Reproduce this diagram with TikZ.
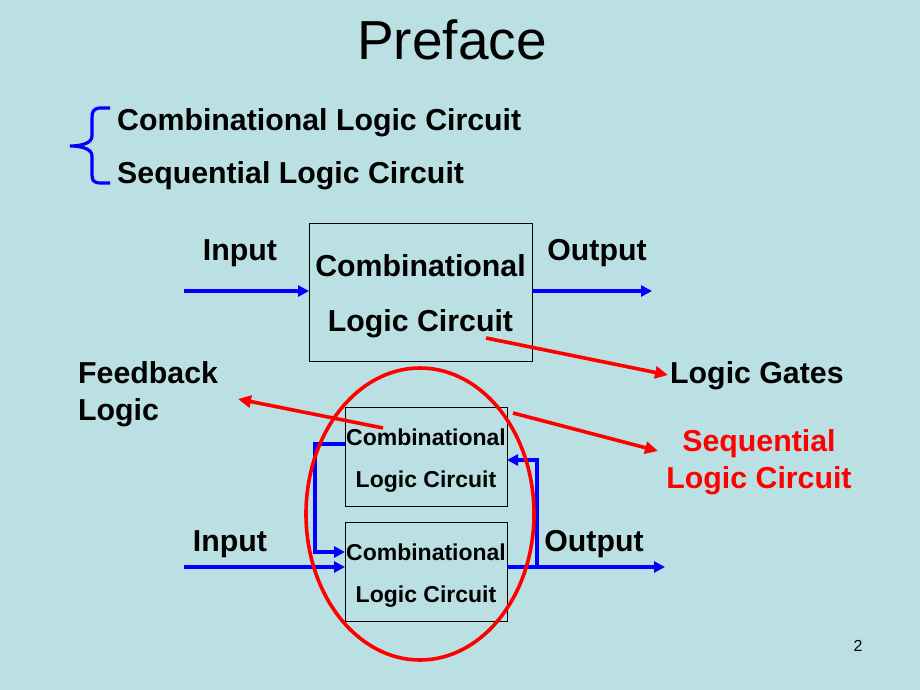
\documentclass[tikz,border=0pt]{standalone}
\usepackage{fontspec}
\setmainfont{Liberation Sans}
\usetikzlibrary{arrows.meta,shapes.geometric}
\definecolor{bgc}{RGB}{187,224,227}
\definecolor{myblue}{RGB}{0,0,255}
\definecolor{myred}{RGB}{255,0,0}
\begin{document}
\begin{tikzpicture}[x=1pt,y=-1pt,
  big/.style={font=\fontsize{30.3}{36}\selectfont\bfseries, inner sep=0pt},
  small/.style={font=\fontsize{23}{27}\selectfont\bfseries, inner sep=0pt},
  box/.style={draw=black, line width=0.9pt, inner sep=0pt, outer sep=0pt},
  barrow/.style={draw=myblue, line width=3.8pt, -{Triangle[length=11pt,width=11pt]}},
  rarrow/.style={draw=myred, line width=3.6pt, -{Triangle[length=13pt,width=12pt]}}]
\fill[bgc] (0,0) rectangle (920,690);
\useasboundingbox (0,0) rectangle (920,690);
% title
\node[anchor=base west, inner sep=0pt, font=\fontsize{55}{60}\selectfont] (title) at (357,60) {Preface};
% brace
\draw[myblue, line width=3.2pt] (110,108) -- (101,108) .. controls (93,108) and (92,112) .. (92,118) -- (92,136) .. controls (92,143) and (82,146) .. (70,146) .. controls (82,146) and (92,149) .. (92,156) -- (92,174) .. controls (92,180) and (93,183) .. (101,183) -- (110,183);
\node[big, anchor=base west] (t1) at (117,131) {Combinational Logic Circuit};
\node[big, anchor=base west] (t2) at (117,183) {Sequential Logic Circuit};
% top block
\node[box, minimum width=223pt, minimum height=138pt] (cb) at (420.5,292) {};
\node[big, anchor=base] (cbA) at (420.5,276) {Combinational};
\node[big, anchor=base] (cbB) at (420.5,331) {Logic Circuit};
\node[big, anchor=base] (inA) at (240,260) {Input};
\node[big, anchor=base] (outA) at (597,260) {Output};
\coordinate (in1) at (184,291);
\coordinate (out1) at (652,291);
\draw[barrow] (in1) -- (in1 -| cb.west);
\draw[barrow] (out1 -| cb.east) -- (out1);
% labels
\node[big, anchor=base west] (lg) at (670,383) {Logic Gates};
\node[big, anchor=base west] (fb1) at (78,383) {Feedback};
\node[big, anchor=base west] (fb2) at (78,420) {Logic};
\node[big, anchor=base, text=myred] (sq1) at (759,451) {Sequential};
\node[big, anchor=base, text=myred] (sq2) at (759,488) {Logic Circuit};
% lower blocks
\node[box, minimum width=162pt, minimum height=99pt] (b1) at (426,456.5) {};
\node[box, minimum width=162pt, minimum height=99pt] (b2) at (426,571.5) {};
\node[small, anchor=base] (b1A) at (426,445) {Combinational};
\node[small, anchor=base] (b1B) at (426,487) {Logic Circuit};
\node[small, anchor=base] (b2A) at (426,560) {Combinational};
\node[small, anchor=base] (b2B) at (426,602) {Logic Circuit};
\node[big, anchor=base] (inB) at (230,551) {Input};
\node[big, anchor=base] (outB) at (594,551) {Output};
\coordinate (in2) at (184,567);
\coordinate (out2) at (665,567);
\coordinate (fr1) at (537,567);
\coordinate (fr2) at (537,460);
\coordinate (fl1) at (315,444);
\coordinate (fl2) at (315,552);
\draw[barrow] (in2) -- (in2 -| b2.west);
\draw[barrow] (out2 -| b2.east) -- (out2);
\draw[barrow] (fr1) -- (fr2) -- (fr2 -| b1.east);
\draw[barrow] (fl1 -| b1.west) -- (fl1) -- (fl2) -- (fl2 -| b2.west);
% ellipse
\node[ellipse, draw=myred, line width=3.6pt, minimum width=228pt, minimum height=292pt, inner sep=0pt] (seq) at (420,514) {};
% red arrows
\coordinate (r1s) at (486,338);
\coordinate (r1e) at (668,375);
\coordinate (r2s) at (383,428);
\coordinate (r2e) at (238,399);
\coordinate (r3s) at (513,413);
\coordinate (r3e) at (658,451);
\draw[rarrow] (r1s) -- (r1e);
\draw[rarrow] (r2s) -- (r2e);
\draw[rarrow] (r3s) -- (r3e);
% page number
\node[anchor=base, inner sep=0pt, font=\fontsize{16}{19}\selectfont] (pg) at (858,651) {2};
\end{tikzpicture}
\end{document}
